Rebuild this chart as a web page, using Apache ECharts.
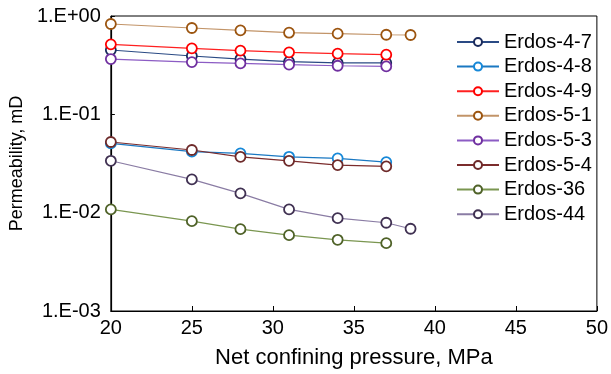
<!DOCTYPE html>
<html>
<head>
<meta charset="utf-8">
<script src="https://cdn.jsdelivr.net/npm/echarts@6/dist/echarts.min.js"></script>
<style>
  html, body { margin: 0; padding: 0; background: #fff; }
  #chart { width: 611px; height: 374px; }
</style>
</head>
<body>
<div id="chart"></div>
<script>
// net confining pressure, MPa
const pressure = [20, 25, 28, 31, 34, 37, 38.5]

// permeability, mD
const erdos47 = [0.451, 0.392, 0.365, 0.343, 0.333, 0.333]
const erdos48 = [0.0507, 0.0417, 0.0401, 0.0370, 0.0357, 0.0327]
const erdos49 = [0.515, 0.469, 0.444, 0.427, 0.414, 0.404]
const erdos51 = [0.829, 0.755, 0.715, 0.676, 0.661, 0.645, 0.641]
const erdos53 = [0.365, 0.340, 0.330, 0.320, 0.312, 0.308]
const erdos54 = [0.0523, 0.0434, 0.0370, 0.0337, 0.0305, 0.0296]
const erdos36 = [0.0108, 0.0082, 0.0068, 0.0059, 0.0053, 0.0049]
const erdos44 = [0.0337, 0.0218, 0.0157, 0.0108, 0.0088, 0.0079, 0.00686]

const FONT = "'Liberation Sans', Arial, sans-serif"

const SERIES = [
  { name: 'Erdos-4-7', values: erdos47, line: '#2a4a84', mark: '#1a2a5c' },
  { name: 'Erdos-4-8', values: erdos48, line: '#1a78c2', mark: '#1688d8' },
  { name: 'Erdos-4-9', values: erdos49, line: '#ff2020', mark: '#ff0000' },
  { name: 'Erdos-5-1', values: erdos51, line: '#c29468', mark: '#9c5510' },
  { name: 'Erdos-5-3', values: erdos53, line: '#8c5cc4', mark: '#7030a0' },
  { name: 'Erdos-5-4', values: erdos54, line: '#7b2c2c', mark: '#6e2a2a' },
  { name: 'Erdos-36', values: erdos36, line: '#7a9650', mark: '#4f6228' },
  { name: 'Erdos-44', values: erdos44, line: '#8a7ca4', mark: '#403152' },
]

function fmtSci(v) {
  const e = Math.round(Math.log10(v))
  const sign = e < 0 ? '-' : '+'
  return '1.E' + sign + String(Math.abs(e)).padStart(2, '0')
}

const chart = echarts.init(document.getElementById('chart'))

chart.setOption({
  animation: false,
  textStyle: { fontFamily: FONT },
  grid: {
    left: 109, right: 11, top: 16, bottom: 63,
    show: true, borderColor: '#000', borderWidth: 1,
  },
  legend: {
    orient: 'vertical',
    left: 451, top: 27,
    itemWidth: 42, itemHeight: 10, itemGap: 4.6,
    textStyle: { fontSize: 20, color: '#000', fontFamily: FONT, lineHeight: 20 },
    data: SERIES.map(s => s.name),
  },
  xAxis: {
    type: 'value',
    min: 20, max: 50, interval: 5,
    name: 'Net confining pressure, MPa',
    nameLocation: 'middle', nameGap: 36,
    nameTextStyle: { fontSize: 22, color: '#000', fontFamily: FONT },
    axisLine: { lineStyle: { color: '#000', width: 1.2 } },
    axisTick: { inside: true, length: 5, lineStyle: { color: '#000' } },
    axisLabel: { fontSize: 20, color: '#000', margin: 7 },
    splitLine: { show: false },
  },
  yAxis: {
    type: 'log', logBase: 10,
    min: 0.001, max: 1,
    name: 'Permeability, mD',
    nameLocation: 'middle', nameGap: 80,
    nameTextStyle: { fontSize: 18, color: '#000', fontFamily: FONT },
    axisLine: { show: true, lineStyle: { color: '#000', width: 1.2 } },
    axisTick: { show: true, inside: true, length: 4, lineStyle: { color: '#000' } },
    minorTick: { show: false },
    axisLabel: { fontSize: 20, color: '#000', margin: 10, formatter: fmtSci },
    splitLine: { show: false },
  },
  series: SERIES.map(s => ({
    name: s.name,
    type: 'line',
    data: s.values.map((v, i) => [pressure[i], v]),
    symbol: 'circle',
    symbolSize: 10,
    lineStyle: { color: s.line, width: 1.2 },
    itemStyle: { color: '#fff', borderColor: s.mark, borderWidth: 1.8 },
    emphasis: { disabled: true },
  })),
})
</script>
</body>
</html>
